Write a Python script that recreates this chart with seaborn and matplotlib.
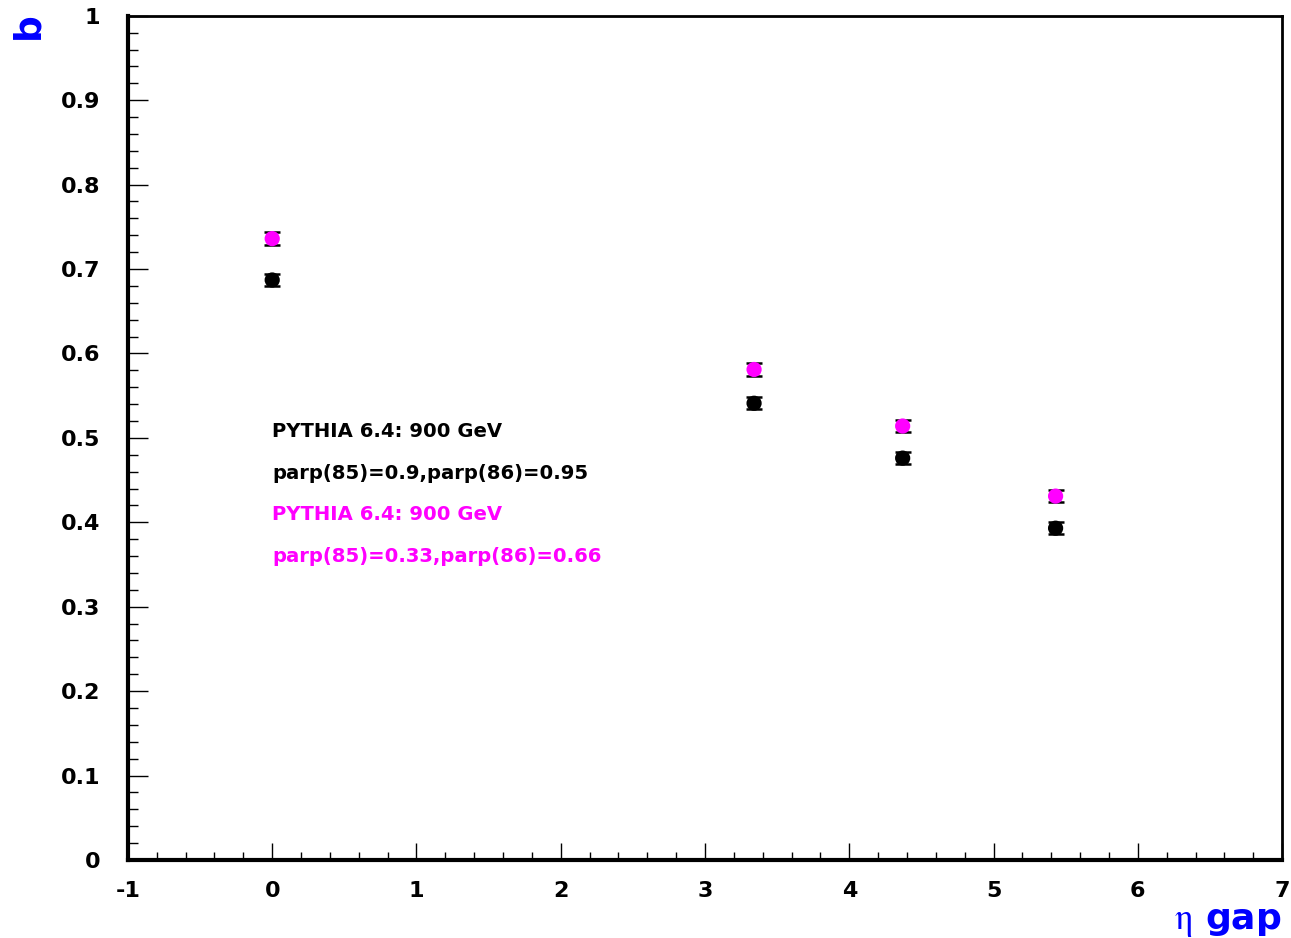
import numpy as np
import pandas as pd
import matplotlib
matplotlib.use("Agg")
import matplotlib.pyplot as plt
import seaborn as sns
from matplotlib.ticker import MultipleLocator, FormatStrFormatter

# =========================
# data
# =========================
eta_gap = [0.0, 3.34, 4.37, 5.43]
b_tune1 = [0.687, 0.541, 0.476, 0.393]    # parp(85)=0.9, parp(86)=0.95 (black)
b_tune2 = [0.736, 0.581, 0.514, 0.431]    # parp(85)=0.33, parp(86)=0.66 (magenta)
err_tune1 = [0.007, 0.007, 0.007, 0.007]
err_tune2 = [0.008, 0.008, 0.007, 0.007]

labels = ["PYTHIA 6.4: 900 GeV",
          "parp(85)=0.9,parp(86)=0.95",
          "PYTHIA 6.4: 900 GeV",
          "parp(85)=0.33,parp(86)=0.66"]
label_colors = ["black", "black", "#ff00ff", "#ff00ff"]
label_y = [0.508, 0.458, 0.409, 0.359]

df = pd.DataFrame({
    "eta": eta_gap * 2,
    "b": b_tune1 + b_tune2,
    "err": err_tune1 + err_tune2,
    "tune": ["t1"] * 4 + ["t2"] * 4,
})
palette = {"t1": "black", "t2": "#ff00ff"}

# =========================
# plot
# =========================
sns.set_style("white")
plt.rcParams["font.family"] = ["DejaVu Sans"]
plt.rcParams["mathtext.fontset"] = "stix"
plt.rcParams["text.color"] = "black"
plt.rcParams["xtick.color"] = "black"
plt.rcParams["ytick.color"] = "black"

fig = plt.figure(figsize=(12.91, 9.38), dpi=100)
ax = fig.add_axes([0.0991, 0.0832, 0.8940, 0.9000])

for tune, sub in df.groupby("tune"):
    ax.errorbar(sub["eta"], sub["b"], yerr=sub["err"], fmt="none",
                ecolor="black", elinewidth=1.5, capsize=6, capthick=1.8, zorder=2)
sns.scatterplot(data=df, x="eta", y="b", hue="tune", palette=palette,
                s=120, edgecolor="none", legend=False, ax=ax, zorder=3)

for txt, c, y in zip(labels, label_colors, label_y):
    ax.text(0.0, y, txt, color=c, fontsize=14.1, fontweight="bold", va="center", ha="left")

ax.set_xlim(-1, 7)
ax.set_ylim(0, 1)
ax.xaxis.set_major_locator(MultipleLocator(1))
ax.xaxis.set_minor_locator(MultipleLocator(0.2))
ax.yaxis.set_major_locator(MultipleLocator(0.1))
ax.yaxis.set_minor_locator(MultipleLocator(0.02))
ax.yaxis.set_major_formatter(FormatStrFormatter("%g"))
ax.xaxis.set_major_formatter(FormatStrFormatter("%g"))

ax.tick_params(axis="both", which="both", direction="in", width=1.0,
               bottom=True, left=True, top=False, right=False)
ax.tick_params(axis="x", which="major", length=12.5, labelsize=16, pad=15)
ax.tick_params(axis="x", which="minor", length=6)
ax.tick_params(axis="y", which="major", length=14.5, labelsize=16, pad=20)
ax.tick_params(axis="y", which="minor", length=7)
for lab in ax.get_xticklabels() + ax.get_yticklabels():
    lab.set_fontweight("bold")

for side in ["left", "bottom"]:
    ax.spines[side].set_linewidth(3)
    ax.spines[side].set_color("black")
for side in ["top", "right"]:
    ax.spines[side].set_linewidth(2)
    ax.spines[side].set_color("black")

ax.set_xlabel("")
ax.set_ylabel("")
fig.text(0.993, 0.010, r"$\mathrm{\eta}$ gap", color="#0000ff", fontsize=26,
         fontweight="bold", ha="right", va="baseline")
fig.text(0.008, 0.987, "b", color="#0000ff", fontsize=27, fontweight="bold",
         rotation=90, ha="left", va="top")

fig.savefig("out.png", dpi=100)
